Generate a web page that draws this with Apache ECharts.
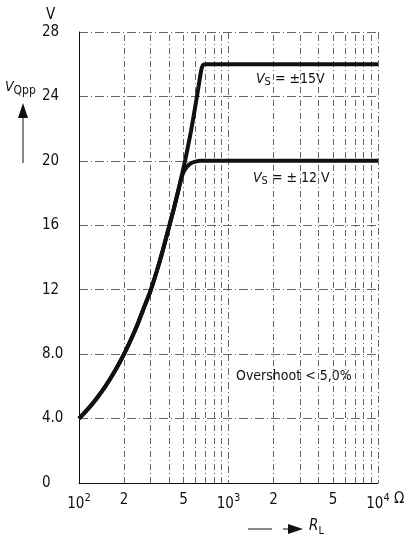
<!DOCTYPE html>
<html>
<head>
<meta charset="utf-8">
<script src="https://cdn.jsdelivr.net/npm/echarts@6/dist/echarts.min.js"></script>
<style>
  html, body { margin: 0; padding: 0; background: #fff; }
  #chart { width: 411px; height: 544px; }
</style>
</head>
<body>
<div id="chart"></div>
<script>
// load resistance R_L (ohm) and output swing V_Qpp (V)
const sharedR = [100, 115, 130, 150, 175, 200, 225, 250, 275, 300, 330, 360, 400, 430, 460]
const sharedV = [4.0, 4.6, 5.2, 6.0, 7.0, 8.0, 9.0, 10.0, 11.0, 11.9, 13.1, 14.3, 15.9, 17.0, 18.1]

const vs15R = [490, 520, 560, 600, 625, 645, 660, 675, 700, 10000]
const vs15V = [19.2, 20.3, 21.8, 23.4, 24.4, 25.2, 25.7, 25.95, 26.0, 26.0]

const vs12R = [480, 500, 530, 560, 600, 650, 10000]
const vs12V = [18.8, 19.3, 19.65, 19.85, 19.95, 20.0, 20.0]

// tick labels and grid
const xLabelValues = [100, 200, 500, 1000, 2000, 5000, 10000]
const xGridValues = [200, 300, 400, 500, 600, 700, 800, 900,
  2000, 3000, 4000, 5000, 6000, 7000, 8000, 9000]
const yTicks = [0, 4, 8, 12, 16, 20, 24, 28]

const FONT = "'DejaVu Sans Condensed', 'Liberation Sans Narrow', 'Roboto Condensed', 'DejaVu Sans', sans-serif"
const INK = '#111'
const GRID = '#666'

const toPairs = (xs, ys) => xs.map((x, i) => [x, ys[i]])

const curve15 = toPairs(sharedR.concat(vs15R), sharedV.concat(vs15V))
const curve12 = toPairs(sharedR.concat(vs12R), sharedV.concat(vs12V))

const formatX = (v) => {
  const exp = Math.round(Math.log10(v))
  if (Math.abs(Math.pow(10, exp) - v) < 1e-6) return '10{sup|' + exp + '}'
  return String(Math.round(v / Math.pow(10, Math.floor(Math.log10(v)))))
}

const chart = echarts.init(document.getElementById('chart'))

chart.setOption({
  animation: false,
  backgroundColor: '#fff',
  textStyle: { fontFamily: FONT },
  grid: { left: 79, right: 33, top: 32, bottom: 61 },
  xAxis: {
    type: 'log',
    logBase: 10,
    min: 100,
    max: 10000,
    axisLine: { show: true, lineStyle: { color: INK, width: 1 } },
    axisTick: { show: false },
    splitLine: {
      show: true,
      lineStyle: { color: GRID, width: 1, type: [7, 3, 1, 3] },
    },
    axisLabel: {
      customValues: xLabelValues,
      formatter: formatX,
      margin: 10,
      color: INK,
      fontSize: 15,
      fontFamily: FONT,
      rich: {
        sup: { fontSize: 11, padding: [0, 0, 12, 0], color: INK, fontFamily: FONT },
      },
    },
  },
  yAxis: {
    type: 'value',
    min: 0,
    max: 28,
    interval: 4,
    axisLine: { show: true, lineStyle: { color: INK, width: 1 } },
    axisTick: { show: false },
    splitLine: {
      show: true,
      lineStyle: { color: GRID, width: 1, type: [9, 3, 1, 3] },
    },
    axisLabel: {
      customValues: yTicks,
      formatter: (v) => (v === 0 ? '0' : v < 10 ? v.toFixed(1) : String(v)),
      align: 'left',
      margin: 37,
      color: INK,
      fontSize: 15,
      fontFamily: FONT,
    },
  },
  series: [
    {
      name: 'VS15',
      type: 'line',
      data: curve15,
      smooth: 0.2,
      symbol: 'none',
      lineStyle: { color: INK, width: 4 },
      z: 5,
      markLine: {
        silent: true,
        symbol: 'none',
        label: { show: false },
        lineStyle: { color: GRID, width: 1, type: [6, 3, 1, 3] },
        data: xGridValues.map((v) => ({ xAxis: v })),
        z: 1,
      },
    },
    {
      name: 'VS12',
      type: 'line',
      data: curve12,
      smooth: 0.2,
      symbol: 'none',
      lineStyle: { color: INK, width: 4 },
      z: 5,
    },
  ],
  graphic: [
    // unit of the y axis
    { type: 'text', left: 46, top: 8, style: { text: 'V', font: '15px ' + FONT, fill: INK } },
    // y axis title with arrow
    {
      type: 'text', left: 5, top: 80,
      style: {
        text: '{v|V}{s|Qpp}',
        fill: INK,
        rich: {
          v: { font: 'italic 14px ' + FONT, fill: INK },
          s: { font: '12px ' + FONT, fill: INK, padding: [8, 0, 0, 0] },
        },
      },
    },
    { type: 'polygon', shape: { points: [[23, 103], [18, 118], [28, 118]] }, style: { fill: INK } },
    { type: 'line', shape: { x1: 23, y1: 116, x2: 23, y2: 163 }, style: { stroke: INK, lineWidth: 1 } },
    // x axis unit
    { type: 'text', left: 394, top: 492, style: { text: 'Ω', font: '15px ' + FONT, fill: INK } },
    // x axis title with arrow
    { type: 'line', shape: { x1: 248, y1: 529, x2: 272, y2: 529 }, style: { stroke: INK, lineWidth: 1 } },
    { type: 'line', shape: { x1: 283, y1: 529, x2: 292, y2: 529 }, style: { stroke: INK, lineWidth: 1 } },
    { type: 'polygon', shape: { points: [[303, 529], [288, 524], [288, 534]] }, style: { fill: INK } },
    {
      type: 'text', left: 309, top: 519,
      style: {
        text: '{v|R}{s|L}',
        fill: INK,
        rich: {
          v: { font: 'italic 15px ' + FONT, fill: INK },
          s: { font: '11px ' + FONT, fill: INK, padding: [10, 0, 0, 0] },
        },
      },
    },
    // curve annotations
    {
      type: 'text', left: 256, top: 72,
      style: {
        text: '{v|V}{s|S}{t| = ±15V}',
        fill: INK,
        rich: {
          v: { font: 'italic 14px ' + FONT, fill: INK },
          s: { font: '11px ' + FONT, fill: INK, padding: [7, 0, 0, 0] },
          t: { font: '14px ' + FONT, fill: INK },
        },
      },
    },
    {
      type: 'text', left: 253, top: 171,
      style: {
        text: '{v|V}{s|S}{t| = ± 12 V}',
        fill: INK,
        rich: {
          v: { font: 'italic 14px ' + FONT, fill: INK },
          s: { font: '11px ' + FONT, fill: INK, padding: [7, 0, 0, 0] },
          t: { font: '14px ' + FONT, fill: INK },
        },
      },
    },
    {
      type: 'text', left: 236, top: 369,
      style: { text: 'Overshoot < 5,0%', font: '14px ' + FONT, fill: INK },
    },
  ],
})
</script>
</body>
</html>
